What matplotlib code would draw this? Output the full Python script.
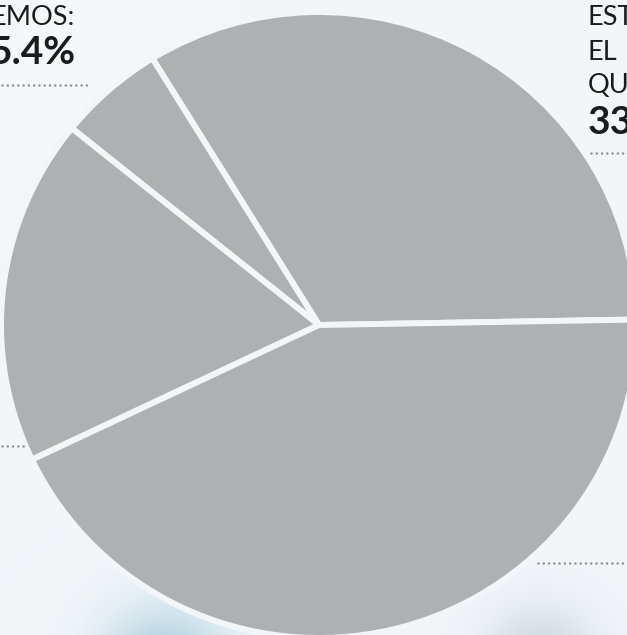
import matplotlib.pyplot as plt
import numpy as np

W, H = 627, 635
fig = plt.figure(figsize=(W / 100, H / 100), dpi=100)

# datos del grafico
shares = [33.5, 5.4, 17.9, 43.2]
start_deg = 1.0
pie_gray = '#afb0b2'
bg_color = '#f3f6f9'

# fondo claro con manchas azuladas abajo
bg = fig.add_axes([0, 0, 1, 1])
yy, xx = np.mgrid[0:H, 0:W]
img = np.ones((H, W, 3)) * np.array([0xf3, 0xf6, 0xf9]) / 255.0
for cx, cy, r, col, a in [(165, 672, 45, (0.62, 0.78, 0.85), 0.9),
                          (540, 665, 40, (0.72, 0.78, 0.82), 0.7),
                          (20, 40, 160, (0.97, 0.98, 0.99), 0.6)]:
    w = a * np.exp(-((xx - cx) ** 2 + (yy - cy) ** 2) / (2 * r ** 2))
    img = img * (1 - w[..., None]) + np.array(col) * w[..., None]
bg.imshow(img, extent=(0, W, H, 0), aspect='auto')
bg.set_xlim(0, W)
bg.set_ylim(H, 0)
bg.axis('off')

# pastel
ax = fig.add_axes([0, 0, 1, 1])
ax.patch.set_alpha(0)
ax.pie(shares, startangle=start_deg, counterclock=True,
       colors=[pie_gray] * len(shares),
       wedgeprops=dict(edgecolor=bg_color, linewidth=4.3))
ax.set_aspect('auto')
cx, cy, sx, sy = 319, 325, 318, 313
ax.set_xlim(-cx / sx, (W - cx) / sx)
ax.set_ylim(-(H - cy) / sy, cy / sy)
ax.axis('off')


def fy(py):
    return 1 - py / H


txt = dict(transform=fig.transFigure, color='#1b1b1b', family='Lato')
fig.text(75 / W, fy(25), 'EMOS:', ha='right', va='baseline', fontsize=19.5, **txt)
fig.text(75 / W, fy(64), '5.4%', ha='right', va='baseline', fontsize=28,
         fontweight='bold', **txt)

fig.text(588 / W, fy(25), 'EST', ha='left', va='baseline', fontsize=19.5, **txt)
fig.text(588 / W, fy(60), 'EL', ha='left', va='baseline', fontsize=19.5, **txt)
fig.text(588 / W, fy(93), 'QU', ha='left', va='baseline', fontsize=19.5, **txt)
fig.text(588 / W, fy(134), '33', ha='left', va='baseline', fontsize=28,
         fontweight='bold', **txt)

# lineas punteadas guia
dot = dict(color='#8b8d91', lw=1.8, linestyle=(0, (0.01, 2.1)),
           dash_capstyle='round', transform=fig.transFigure)
for x0, x1, py in [(2, 90, 85), (591, 627, 153), (2, 28, 446), (538, 627, 563)]:
    fig.add_artist(plt.Line2D([x0 / W, x1 / W], [fy(py), fy(py)], **dot))

fig.savefig('out.png', dpi=100)
